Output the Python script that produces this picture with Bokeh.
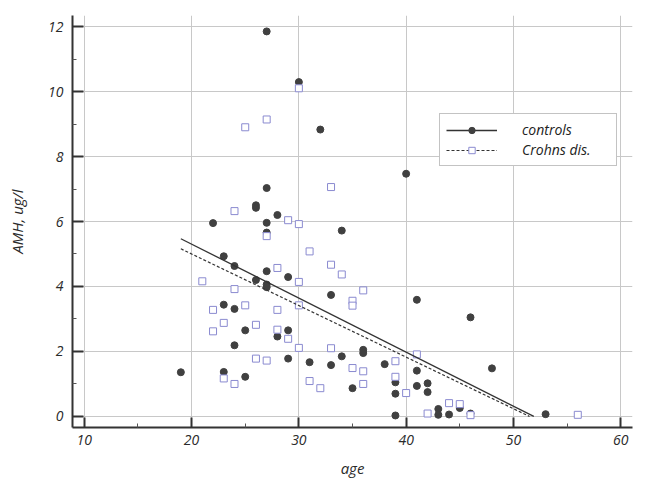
from bokeh.plotting import figure
from bokeh.models import Range1d, FixedTicker, Legend, LegendItem
from bokeh.embed import file_html
from bokeh.resources import INLINE

# ---- data ----
ctrl_age = [19, 22, 23, 23, 23, 24, 24, 24, 25, 25, 26, 26, 26, 27, 27, 27, 27, 27, 27, 27,
            28, 28, 29, 29, 29, 30, 31, 32, 33, 33, 34, 34, 35, 36, 36, 38, 39, 39, 39, 40,
            41, 41, 41, 42, 42, 43, 43, 44, 45, 46, 46, 48, 53]
ctrl_amh = [1.36, 5.95, 4.93, 3.44, 1.37, 4.63, 3.31, 2.19, 2.65, 1.22, 6.50, 6.42, 4.20, 11.85,
            7.03, 5.96, 5.66, 4.47, 4.06, 3.98, 6.20, 2.46, 4.29, 2.65, 1.78, 10.29, 1.67, 8.83,
            3.74, 1.58, 5.72, 1.85, 0.87, 2.05, 1.95, 1.61, 1.05, 0.70, 0.03, 7.47, 3.59, 1.41,
            0.94, 1.02, 0.75, 0.23, 0.05, 0.06, 0.26, 3.05, 0.09, 1.48, 0.07]

crohn_age = [21, 22, 22, 23, 23, 24, 24, 24, 25, 25, 26, 26, 27, 27, 27, 28, 28, 28, 29, 29,
             30, 30, 30, 30, 30, 31, 31, 32, 33, 33, 33, 34, 35, 35, 35, 36, 36, 36, 39, 39,
             40, 41, 42, 44, 45, 46, 56]
crohn_amh = [4.16, 3.28, 2.62, 2.88, 1.17, 6.32, 3.92, 1.00, 8.90, 3.42, 2.82, 1.78, 9.14, 5.55,
             1.72, 4.57, 3.28, 2.67, 6.04, 2.39, 10.10, 5.92, 4.14, 3.42, 2.11, 5.08, 1.09, 0.87,
             7.06, 4.67, 2.10, 4.37, 3.56, 3.41, 1.49, 3.88, 1.39, 1.00, 1.70, 1.22, 0.72, 1.91,
             0.09, 0.41, 0.38, 0.04, 0.05]

# regression lines (end points)
ctrl_fit_age = [19, 51.9]
ctrl_fit_amh = [5.47, 0.0]
crohn_fit_age = [19, 51.5]
crohn_fit_amh = [5.16, 0.0]

x_ticks = [10, 20, 30, 40, 50, 60]
x_minor = [15, 25, 35, 45, 55]
y_ticks = [0, 2, 4, 6, 8, 10, 12]
y_minor = [1, 3, 5, 7, 9, 11]

FONT = "Open Sans"
TXT = "#2a2a2a"

p = figure(frame_width=560, frame_height=412,
           min_border_left=72, min_border_right=14, min_border_top=15, min_border_bottom=55,
           x_range=Range1d(8.9, 61.1), y_range=Range1d(-0.34, 12.34),
           output_backend="svg", toolbar_location=None,
           x_axis_label="age", y_axis_label="AMH, ug/l")
p.outline_line_color = None
p.background_fill_color = "white"

p.xaxis.ticker = FixedTicker(ticks=x_ticks, minor_ticks=x_minor)
p.yaxis.ticker = FixedTicker(ticks=y_ticks, minor_ticks=y_minor)
p.xgrid.ticker = FixedTicker(ticks=x_ticks)
p.ygrid.ticker = FixedTicker(ticks=y_ticks)
p.grid.grid_line_color = "#c8c8c8"
p.grid.grid_line_width = 1

for ax in (p.xaxis, p.yaxis):
    ax.axis_line_color = "#333333"
    ax.axis_line_width = 2
    ax.major_tick_line_color = "#333333"
    ax.major_tick_line_width = 2
    ax.minor_tick_line_color = "#555555"
    ax.major_tick_out = 0
    ax.minor_tick_out = 0
    ax.major_label_text_font = FONT
    ax.major_label_text_font_style = "italic"
    ax.major_label_text_font_size = "14px"
    ax.major_label_text_color = TXT
    ax.axis_label_text_font = FONT
    ax.axis_label_text_font_style = "italic"
    ax.axis_label_text_font_size = "15px"
    ax.axis_label_text_color = TXT

p.xaxis.major_tick_in = 10
p.xaxis.minor_tick_in = 4
p.yaxis.major_tick_in = 11
p.yaxis.minor_tick_in = 4
p.xaxis.major_label_standoff = 7
p.xaxis.axis_label_standoff = 10
p.yaxis.major_label_standoff = 9
p.yaxis.axis_label_standoff = 18

ctrl_pts = p.scatter(ctrl_age, ctrl_amh, marker="circle", size=7,
                     fill_color="#404040", line_color="#404040")
crohn_pts = p.scatter(crohn_age, crohn_amh, marker="square", size=7,
                      fill_color="white", line_color="#8a8ad0", line_width=1)
ctrl_line = p.line(ctrl_fit_age, ctrl_fit_amh, line_color="#333333", line_width=1.3)
crohn_line = p.line(crohn_fit_age, crohn_fit_amh, line_color="#333333", line_width=1.2,
                    line_dash="3 2")

legend = Legend(items=[LegendItem(label="controls", renderers=[ctrl_line, ctrl_pts]),
                       LegendItem(label="Crohns dis.", renderers=[crohn_line, crohn_pts])],
                location=(367, 261))
legend.padding = 6
legend.spacing = 1
legend.glyph_width = 51
legend.glyph_height = 16
legend.label_height = 16
legend.label_width = 88
legend.label_standoff = 25
legend.label_text_font = FONT
legend.label_text_font_style = "italic"
legend.label_text_font_size = "14px"
legend.label_text_color = "#222222"
legend.border_line_color = "#888888"
legend.border_line_width = 1
legend.background_fill_color = "white"
legend.background_fill_alpha = 1
legend.margin = 0
p.add_layout(legend)

open("out.html", "w").write(file_html(p, INLINE))
